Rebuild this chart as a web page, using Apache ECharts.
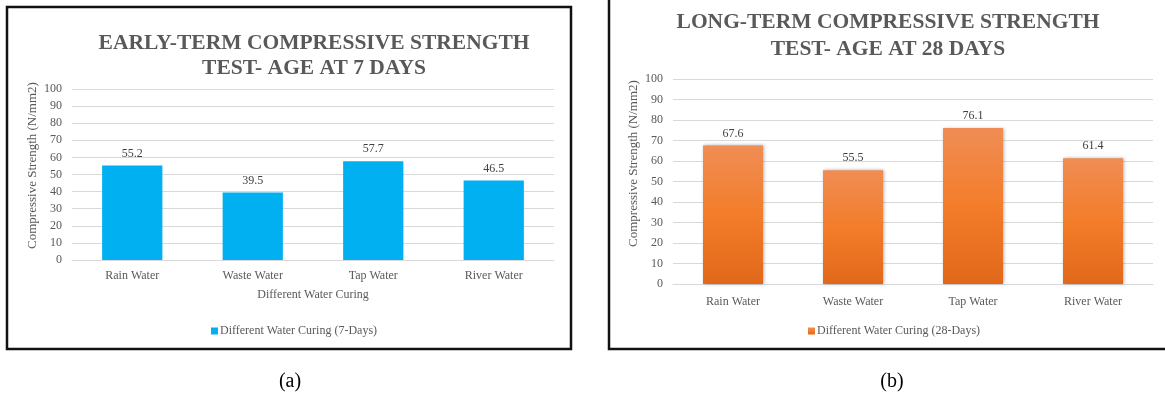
<!DOCTYPE html>
<html>
<head>
<meta charset="utf-8">
<script src="https://cdn.jsdelivr.net/npm/echarts@6/dist/echarts.min.js"></script>
<style>
  html, body { margin: 0; padding: 0; background: #fff; }
  #main { width: 1165px; height: 397px; }
</style>
</head>
<body>
<div id="main"></div>
<script>
  // 数据
  var categories = ['Rain Water', 'Waste Water', 'Tap Water', 'River Water'];
  var strength7 = [55.2, 39.5, 57.7, 46.5];
  var strength28 = [67.6, 55.5, 76.1, 61.4];
  var seriesName7 = 'Different Water Curing (7-Days)';
  var seriesName28 = 'Different Water Curing (28-Days)';
  var title7 = ['EARLY-TERM COMPRESSIVE STRENGTH', 'TEST- AGE AT 7 DAYS'];
  var title28 = ['LONG-TERM COMPRESSIVE STRENGTH', 'TEST- AGE AT 28 DAYS'];
  var yName = 'Compressive Strength (N/mm2)';
  var xName = 'Different Water Curing';

  var serif = '"Liberation Serif", "DejaVu Serif", serif';
  var grey = '#595959';

  // shiftUp: 轴名称上移的像素
  function yAxisOf(idx, shiftUp) {
    return {
      gridIndex: idx,
      type: 'value',
      min: 0,
      max: 100,
      interval: 10,
      name: yName,
      nameLocation: 'middle',
      nameGap: 33,
      nameTextStyle: { fontFamily: serif, fontSize: 13, color: grey, padding: [0, 0, 0, shiftUp * 2] },
      axisLine: { show: false },
      axisTick: { show: false },
      axisLabel: { fontFamily: serif, fontSize: 12, color: grey, margin: 10 },
      splitLine: { lineStyle: { color: '#d9d9d9', width: 1 } }
    };
  }

  function xAxisOf(idx, withName, margin) {
    var ax = {
      gridIndex: idx,
      type: 'category',
      data: categories,
      axisTick: { show: false },
      axisLine: { lineStyle: { color: '#d9d9d9' } },
      axisLabel: { fontFamily: serif, fontSize: 12, color: grey, margin: margin }
    };
    if (withName) {
      ax.name = xName;
      ax.nameLocation = 'middle';
      ax.nameGap = 29;
      ax.nameTextStyle = { fontFamily: serif, fontSize: 12, color: grey };
    }
    return ax;
  }

  var labelStyle = { show: true, position: 'top', distance: 6, fontFamily: serif, fontSize: 12, color: '#404040' };

  var myChart = echarts.init(document.getElementById('main'));
  var option = {
    animation: false,
    grid: [
      { left: 72, top: 89, width: 482, height: 171 },
      { left: 673, top: 79, width: 480, height: 205 }
    ],
    legend: [
      {
        data: [seriesName7], left: 206, top: 320,
        icon: 'rect', itemWidth: 7, itemHeight: 7, itemGap: 2,
        textStyle: { fontFamily: serif, fontSize: 12, color: grey, padding: [0, 0, 0, -3] }
      },
      {
        data: [seriesName28], left: 803, top: 320,
        icon: 'rect', itemWidth: 7, itemHeight: 7, itemGap: 2,
        textStyle: { fontFamily: serif, fontSize: 12, color: grey, padding: [0, 0, 0, -3] }
      }
    ],
    xAxis: [xAxisOf(0, true, 10), xAxisOf(1, false, 12)],
    yAxis: [yAxisOf(0, 9), yAxisOf(1, 18)],
    series: [
      {
        name: seriesName7,
        type: 'bar',
        xAxisIndex: 0,
        yAxisIndex: 0,
        barWidth: '50%',
        data: strength7,
        itemStyle: { color: '#00b0f0' },
        label: labelStyle
      },
      {
        name: seriesName28,
        type: 'bar',
        xAxisIndex: 1,
        yAxisIndex: 1,
        barWidth: '50%',
        data: strength28,
        itemStyle: {
          color: new echarts.graphic.LinearGradient(0, 0, 0, 1, [
            { offset: 0, color: '#f08d55' },
            { offset: 0.5, color: '#f37d2a' },
            { offset: 1, color: '#e1681a' }
          ]),
          shadowBlur: 3,
          shadowColor: 'rgba(0,0,0,0.3)',
          shadowOffsetX: 1
        },
        label: labelStyle
      }
    ],
    graphic: [
      // 外框
      { type: 'rect', shape: { x: 7, y: 7, width: 564, height: 342 }, style: { fill: 'none', stroke: '#111', lineWidth: 2.5 } },
      { type: 'rect', shape: { x: 609, y: -5, width: 570, height: 354 }, style: { fill: 'none', stroke: '#111', lineWidth: 2.5 } },
      // 标题
      { type: 'text', x: 314, y: 43, style: { text: title7[0], font: 'bold 21.5px ' + serif, fill: grey, align: 'center', verticalAlign: 'middle' } },
      { type: 'text', x: 314, y: 68, style: { text: title7[1], font: 'bold 21.5px ' + serif, fill: grey, align: 'center', verticalAlign: 'middle' } },
      { type: 'text', x: 888, y: 22, style: { text: title28[0], font: 'bold 21.5px ' + serif, fill: grey, align: 'center', verticalAlign: 'middle' } },
      { type: 'text', x: 888, y: 49, style: { text: title28[1], font: 'bold 21.5px ' + serif, fill: grey, align: 'center', verticalAlign: 'middle' } },
      // 子图编号
      { type: 'text', x: 290, y: 382, style: { text: '(a)', font: '20px ' + serif, fill: '#000', align: 'center', verticalAlign: 'middle' } },
      { type: 'text', x: 892, y: 382, style: { text: '(b)', font: '20px ' + serif, fill: '#000', align: 'center', verticalAlign: 'middle' } }
    ]
  };
  myChart.setOption(option);
</script>
</body>
</html>
